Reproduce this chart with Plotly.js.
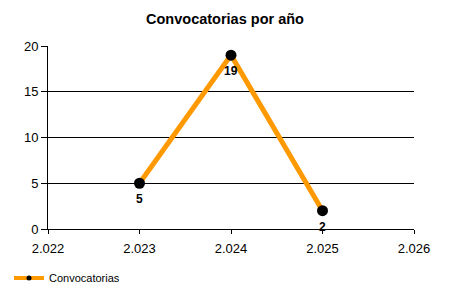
<!DOCTYPE html>
<html>
<head>
<meta charset="utf-8">
<script src="https://cdn.plot.ly/plotly-3.0.1.min.js"></script>
<style>html,body{margin:0;padding:0;background:#fff;}#chart{width:450px;height:300px;}</style>
</head>
<body>
<div id="chart"></div>
<script>
const years = [2023, 2024, 2025];
const counts = [5, 19, 2];
const seriesName = 'Convocatorias';
const xTickVals = [2022, 2023, 2024, 2025, 2026];
const xTickText = ["2.022", "2.023", "2.024", "2.025", "2.026"];
const yTickVals = [0, 5, 10, 15, 20];

const FONT = 'Liberation Sans, Arial, sans-serif';

const trace = {
  x: years,
  y: counts,
  type: 'scatter',
  mode: 'lines+markers',
  name: seriesName,
  showlegend: false,
  line: {color: '#FF9900', width: 5},
  marker: {color: '#000', size: 11}
};

// legend-only entry (smaller marker like the reference legend)
const legendTrace = {
  x: [null], y: [null],
  type: 'scatter', mode: 'lines+markers',
  name: seriesName,
  showlegend: true,
  line: {color: '#FF9900', width: 4},
  marker: {color: '#000', size: 5}
};

const labels = years.map((x, i) => ({
  x: x, y: counts[i], xref: 'x', yref: 'y',
  text: '<b>' + counts[i] + '</b>',
  showarrow: false, yshift: -16, yanchor: 'middle', xanchor: 'center',
  font: {family: FONT, size: 12, color: '#000'}
}));

const layout = {
  width: 450, height: 300,
  margin: {l: 48, r: 36, t: 46, b: 71, autoexpand: false},
  paper_bgcolor: '#fff', plot_bgcolor: '#fff',
  font: {family: FONT, size: 13, color: '#000'},
  title: {text: '<b>Convocatorias por año</b>', x: 0.5, xanchor: 'center', y: 0.937, yanchor: 'middle', font: {size: 14.5, color: '#000'}},
  xaxis: {
    range: [2022, 2026], tickvals: xTickVals, ticktext: xTickText,
    showgrid: false, zeroline: false, showline: true, linecolor: '#000', linewidth: 1,
    ticks: 'outside', ticklen: 4, tickcolor: '#000', tickfont: {size: 13},
    ticklabelstandoff: 3
  },
  yaxis: {
    range: [0, 20], tickvals: yTickVals,
    showgrid: true, gridcolor: '#000', gridwidth: 1, zeroline: false,
    showline: true, linecolor: '#000', linewidth: 1,
    ticks: 'outside', ticklen: 6, tickcolor: '#000', tickfont: {size: 13}
  },
  annotations: labels,
  showlegend: true,
  legend: {orientation: 'h', xref: 'container', yref: 'container', x: 0.02, xanchor: 'left', y: 0.0733, yanchor: 'middle', font: {size: 11}, bgcolor: 'rgba(0,0,0,0)'}
};

Plotly.newPlot('chart', [trace, legendTrace], layout, {displayModeBar: false, staticPlot: true});
</script>
</body>
</html>
